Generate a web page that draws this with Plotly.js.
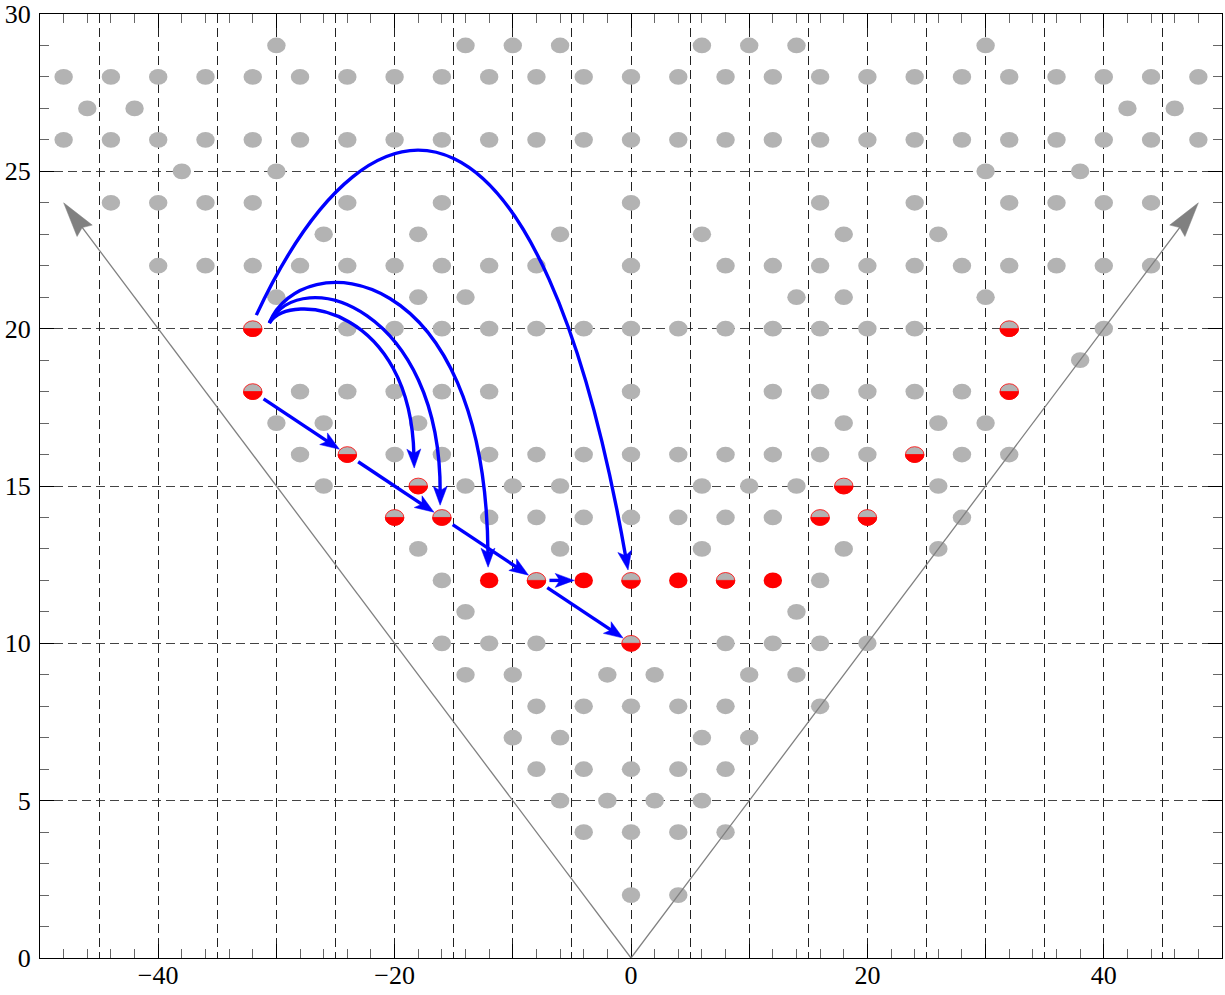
<!DOCTYPE html>
<html>
<head>
<meta charset="utf-8">
<script src="https://cdn.plot.ly/plotly-3.0.1.min.js"></script>
<style>
  html, body { margin: 0; padding: 0; background: #fff; }
  #chart { width: 1225px; height: 995px; }
</style>
</head>
<body>
<div id="chart"></div>
<script>
// --- lattice points (gray), one list of x values per row ---
const rowY = [29, 28, 27, 26, 25, 24, 23, 22, 21, 20, 19, 18, 17, 16, 15, 14, 13, 12, 11, 10, 9, 8, 7, 6, 5, 4, 2];
const rowX = [
    [-30, -14, -10, -6, 6, 10, 14, 30],
    [-48, -44, -40, -36, -32, -28, -24, -20, -16, -12, -8, -4, 0, 4, 8, 12, 16, 20, 24, 28, 32, 36, 40, 44, 48],
    [-46, -42, 42, 46],
    [-48, -44, -40, -36, -32, -28, -24, -20, -16, -12, -8, -4, 0, 4, 8, 12, 16, 20, 24, 28, 32, 36, 40, 44, 48],
    [-38, -30, 30, 38],
    [-44, -40, -36, -32, -24, -16, 0, 16, 24, 32, 36, 40, 44],
    [-26, -18, -6, 6, 18, 26],
    [-40, -36, -32, -28, -24, -20, -16, -12, -8, 0, 8, 12, 16, 20, 24, 28, 32, 36, 40, 44],
    [-30, -18, -14, 14, 18, 30],
    [-24, -20, -16, -12, -8, -4, 0, 4, 8, 12, 16, 20, 24, 40],
    [38],
    [-28, -24, -20, -16, -12, 0, 12, 16, 20, 24, 28],
    [-30, -26, -18, 18, 26, 30],
    [-28, -20, -16, -12, -8, -4, 0, 4, 8, 12, 16, 20, 28, 32],
    [-26, -14, -10, -6, 6, 10, 14, 26],
    [-12, -8, -4, 0, 4, 8, 12, 28],
    [-18, -6, 6, 18, 26],
    [-16, 16],
    [-14, 14],
    [-16, -12, -8, 8, 12, 16, 20],
    [-14, -10, -2, 2, 10, 14],
    [-8, -4, 0, 4, 8, 16],
    [-10, -6, 6, 10],
    [-8, -4, 0, 4, 8],
    [-6, -2, 2, 6],
    [-4, 0, 4, 8],
    [0, 4]
];

// --- half red (lower half) and full red points ---
const halfRedX = [-32, 32, -32, 32, -24, 24, -18, 18, -20, -16, 16, 20, -8, 0, 8, 0];
const halfRedY = [20, 20, 18, 18, 16, 16, 15, 15, 14, 14, 14, 14, 12, 12, 12, 10];
const fullRedX = [-12, -4, 4, 12];
const fullRedY = [12, 12, 12, 12];

// --- straight blue arrows (dot to dot) ---
const arrowFrom = [[-32, 18], [-24, 16], [-16, 14], [-8, 12], [-8, 12]];
const arrowTo = [[-24, 16], [-16, 14], [-8, 12], [-4, 12], [0, 10]];

// --- curved blue arrows (cubic bezier: start, two controls, tip) ---
const curveStart = [[-31.70, 20.43], [-30.60, 20.18], [-30.60, 20.18], [-30.60, 20.18]];
const curveCtrl1 = [[-21.56, 28.57], [-28.74, 21.23], [-27.90, 22.12], [-27.90, 22.66]];
const curveCtrl2 = [[-7.44, 27.74], [-18.60, 20.27], [-16.06, 20.27], [-12.26, 21.86]];
const curveEnd = [[-0.25, 12.33], [-18.34, 15.57], [-16.15, 14.39], [-12.09, 12.42]];

// --- gray cone arrows ---
const coneApex = [0, 0];
const coneTips = [[-48, 24], [48, 24]];

const X_RANGE = [-50, 50];
const Y_RANGE = [0, 30];
const M = { l: 40, r: 3, t: 14, b: 37 };
const KX = (1225 - M.l - M.r) / (X_RANGE[1] - X_RANGE[0]);
const KY = (995 - M.t - M.b) / (Y_RANGE[1] - Y_RANGE[0]);

const RX = 0.78, RY = 0.25;
const GRAY = '#b3b3b3', RED = '#ff0000', BLUE = '#0000ff', CONE = '#808080';
const BLUE_W = 3.4;

const shapes = [];

function ellipse(x, y, fill, lineColor) {
    shapes.push({
        type: 'circle', xref: 'x', yref: 'y', layer: 'above',
        x0: x - RX, x1: x + RX, y0: y - RY, y1: y + RY,
        fillcolor: fill,
        line: lineColor ? { color: lineColor, width: 0.8 } : { width: 0 }
    });
}

function lowerHalf(x, y) {
    const k = 0.5523;
    const p = [
        [x - RX, y],
        [x - RX, y - k * RY], [x - k * RX, y - RY], [x, y - RY],
        [x + k * RX, y - RY], [x + RX, y - k * RY], [x + RX, y]
    ];
    shapes.push({
        type: 'path', xref: 'x', yref: 'y', layer: 'above',
        path: `M${p[0]} C${p[1]} ${p[2]} ${p[3]} C${p[4]} ${p[5]} ${p[6]} Z`,
        fillcolor: RED, line: { color: RED, width: 0.8 }
    });
}

// unit vector in pixel space (y down) from a to b
function unitPx(a, b) {
    const dx = (b[0] - a[0]) * KX, dy = -(b[1] - a[1]) * KY;
    const n = Math.hypot(dx, dy);
    return [dx / n, dy / n];
}
function movePx(p, u, d) {
    return [p[0] + u[0] * d / KX, p[1] - u[1] * d / KY];
}

function arrowHead(tip, u, len, half, notch, color) {
    const back = movePx(tip, u, -len);
    const perp = [-u[1], u[0]];
    const b1 = movePx(back, perp, half);
    const b2 = movePx(back, perp, -half);
    const n = movePx(tip, u, -(len - notch));
    shapes.push({
        type: 'path', xref: 'x', yref: 'y', layer: 'above',
        path: `M${tip} L${b1} L${n} L${b2} Z`,
        fillcolor: color, line: { color: color, width: 0.5 }
    });
}

// dots
rowY.forEach((y, i) => rowX[i].forEach(x => ellipse(x, y, GRAY)));
halfRedX.forEach((x, i) => { ellipse(x, halfRedY[i], GRAY, RED); lowerHalf(x, halfRedY[i]); });
fullRedX.forEach((x, i) => ellipse(x, fullRedY[i], RED));

// cone lines
coneTips.forEach(t => {
    const u = unitPx(coneApex, t);
    const e = movePx(t, u, -28);
    shapes.push({
        type: 'line', xref: 'x', yref: 'y', layer: 'above',
        x0: coneApex[0], y0: coneApex[1], x1: e[0], y1: e[1],
        line: { color: CONE, width: 1.3 }
    });
    arrowHead(t, u, 35, 9.5, 4, CONE);
});

// straight blue arrows
arrowFrom.forEach((a, i) => {
    const b = arrowTo[i];
    const u = unitPx(a, b);
    const s = movePx(a, u, 13);
    const tip = movePx(b, u, -9.5);
    const e = movePx(tip, u, -12);
    shapes.push({
        type: 'line', xref: 'x', yref: 'y', layer: 'above',
        x0: s[0], y0: s[1], x1: e[0], y1: e[1],
        line: { color: BLUE, width: BLUE_W }
    });
    arrowHead(tip, u, 19, 7, 4.5, BLUE);
});

// curved blue arrows
curveStart.forEach((s, i) => {
    const c1 = curveCtrl1[i], c2 = curveCtrl2[i], e = curveEnd[i];
    const u = unitPx(c2, e);
    const e2 = movePx(e, u, -12);
    const c2b = movePx(c2, u, -12);
    shapes.push({
        type: 'path', xref: 'x', yref: 'y', layer: 'above',
        path: `M${s} C${c1} ${c2b} ${e2}`,
        line: { color: BLUE, width: BLUE_W }
    });
    arrowHead(e, u, 19, 7, 4.5, BLUE);
});

const hideLabels = {};
[-50, -30, -10, 10, 30, 50].forEach(v => {
    hideLabels[String(v)] = ' ';
    hideLabels[String(v).replace('-', '\u2212')] = ' ';
});

const traces = [
    { type: 'scatter', x: [], y: [], xaxis: 'x', yaxis: 'y', hoverinfo: 'skip' },
    { type: 'scatter', x: [], y: [], xaxis: 'x2', yaxis: 'y', hoverinfo: 'skip' }
];

const FONT = { family: '"Liberation Serif", "DejaVu Serif", serif', size: 26, color: '#000000' };

const layout = {
    width: 1225, height: 995,
    margin: M,
    paper_bgcolor: '#ffffff', plot_bgcolor: '#ffffff',
    showlegend: false,
    font: FONT,
    xaxis: {
        range: X_RANGE, tickmode: 'linear', tick0: 0, dtick: 10,
        ticks: 'inside', ticklen: 14, tickwidth: 1, tickcolor: '#000000',
        minor: { tickmode: 'linear', tick0: 0, dtick: 2, ticks: 'inside', ticklen: 9, tickwidth: 1, tickcolor: '#666666', showgrid: false },
        labelalias: hideLabels, tickfont: FONT,
        showline: true, linecolor: '#000000', linewidth: 1, mirror: 'ticks',
        showgrid: false, zeroline: false, fixedrange: true,
        ticklabelstandoff: -6, ticklabeloverflow: 'allow'
    },
    xaxis2: {
        overlaying: 'x', anchor: 'y', range: X_RANGE, tickmode: 'linear', tick0: 0, dtick: 5,
        showgrid: true, gridcolor: '#222222', gridwidth: 1, griddash: '9px,5px',
        showticklabels: false, ticks: '', showline: false, zeroline: false, fixedrange: true
    },
    yaxis: {
        range: Y_RANGE, tickmode: 'linear', tick0: 0, dtick: 5,
        ticks: 'inside', ticklen: 14, tickwidth: 1, tickcolor: '#000000',
        minor: { tickmode: 'linear', tick0: 0, dtick: 1, ticks: 'inside', ticklen: 9, tickwidth: 1, tickcolor: '#666666', showgrid: false },
        tickfont: FONT,
        showline: true, linecolor: '#000000', linewidth: 1, mirror: 'ticks',
        showgrid: true, gridcolor: '#444444', gridwidth: 1, griddash: '9px,5px',
        zeroline: false, fixedrange: true, ticklabelstandoff: 3, ticklabeloverflow: 'allow'
    },
    shapes: shapes
};

Plotly.newPlot('chart', traces, layout, { displayModeBar: false, staticPlot: true });
</script>
</body>
</html>
